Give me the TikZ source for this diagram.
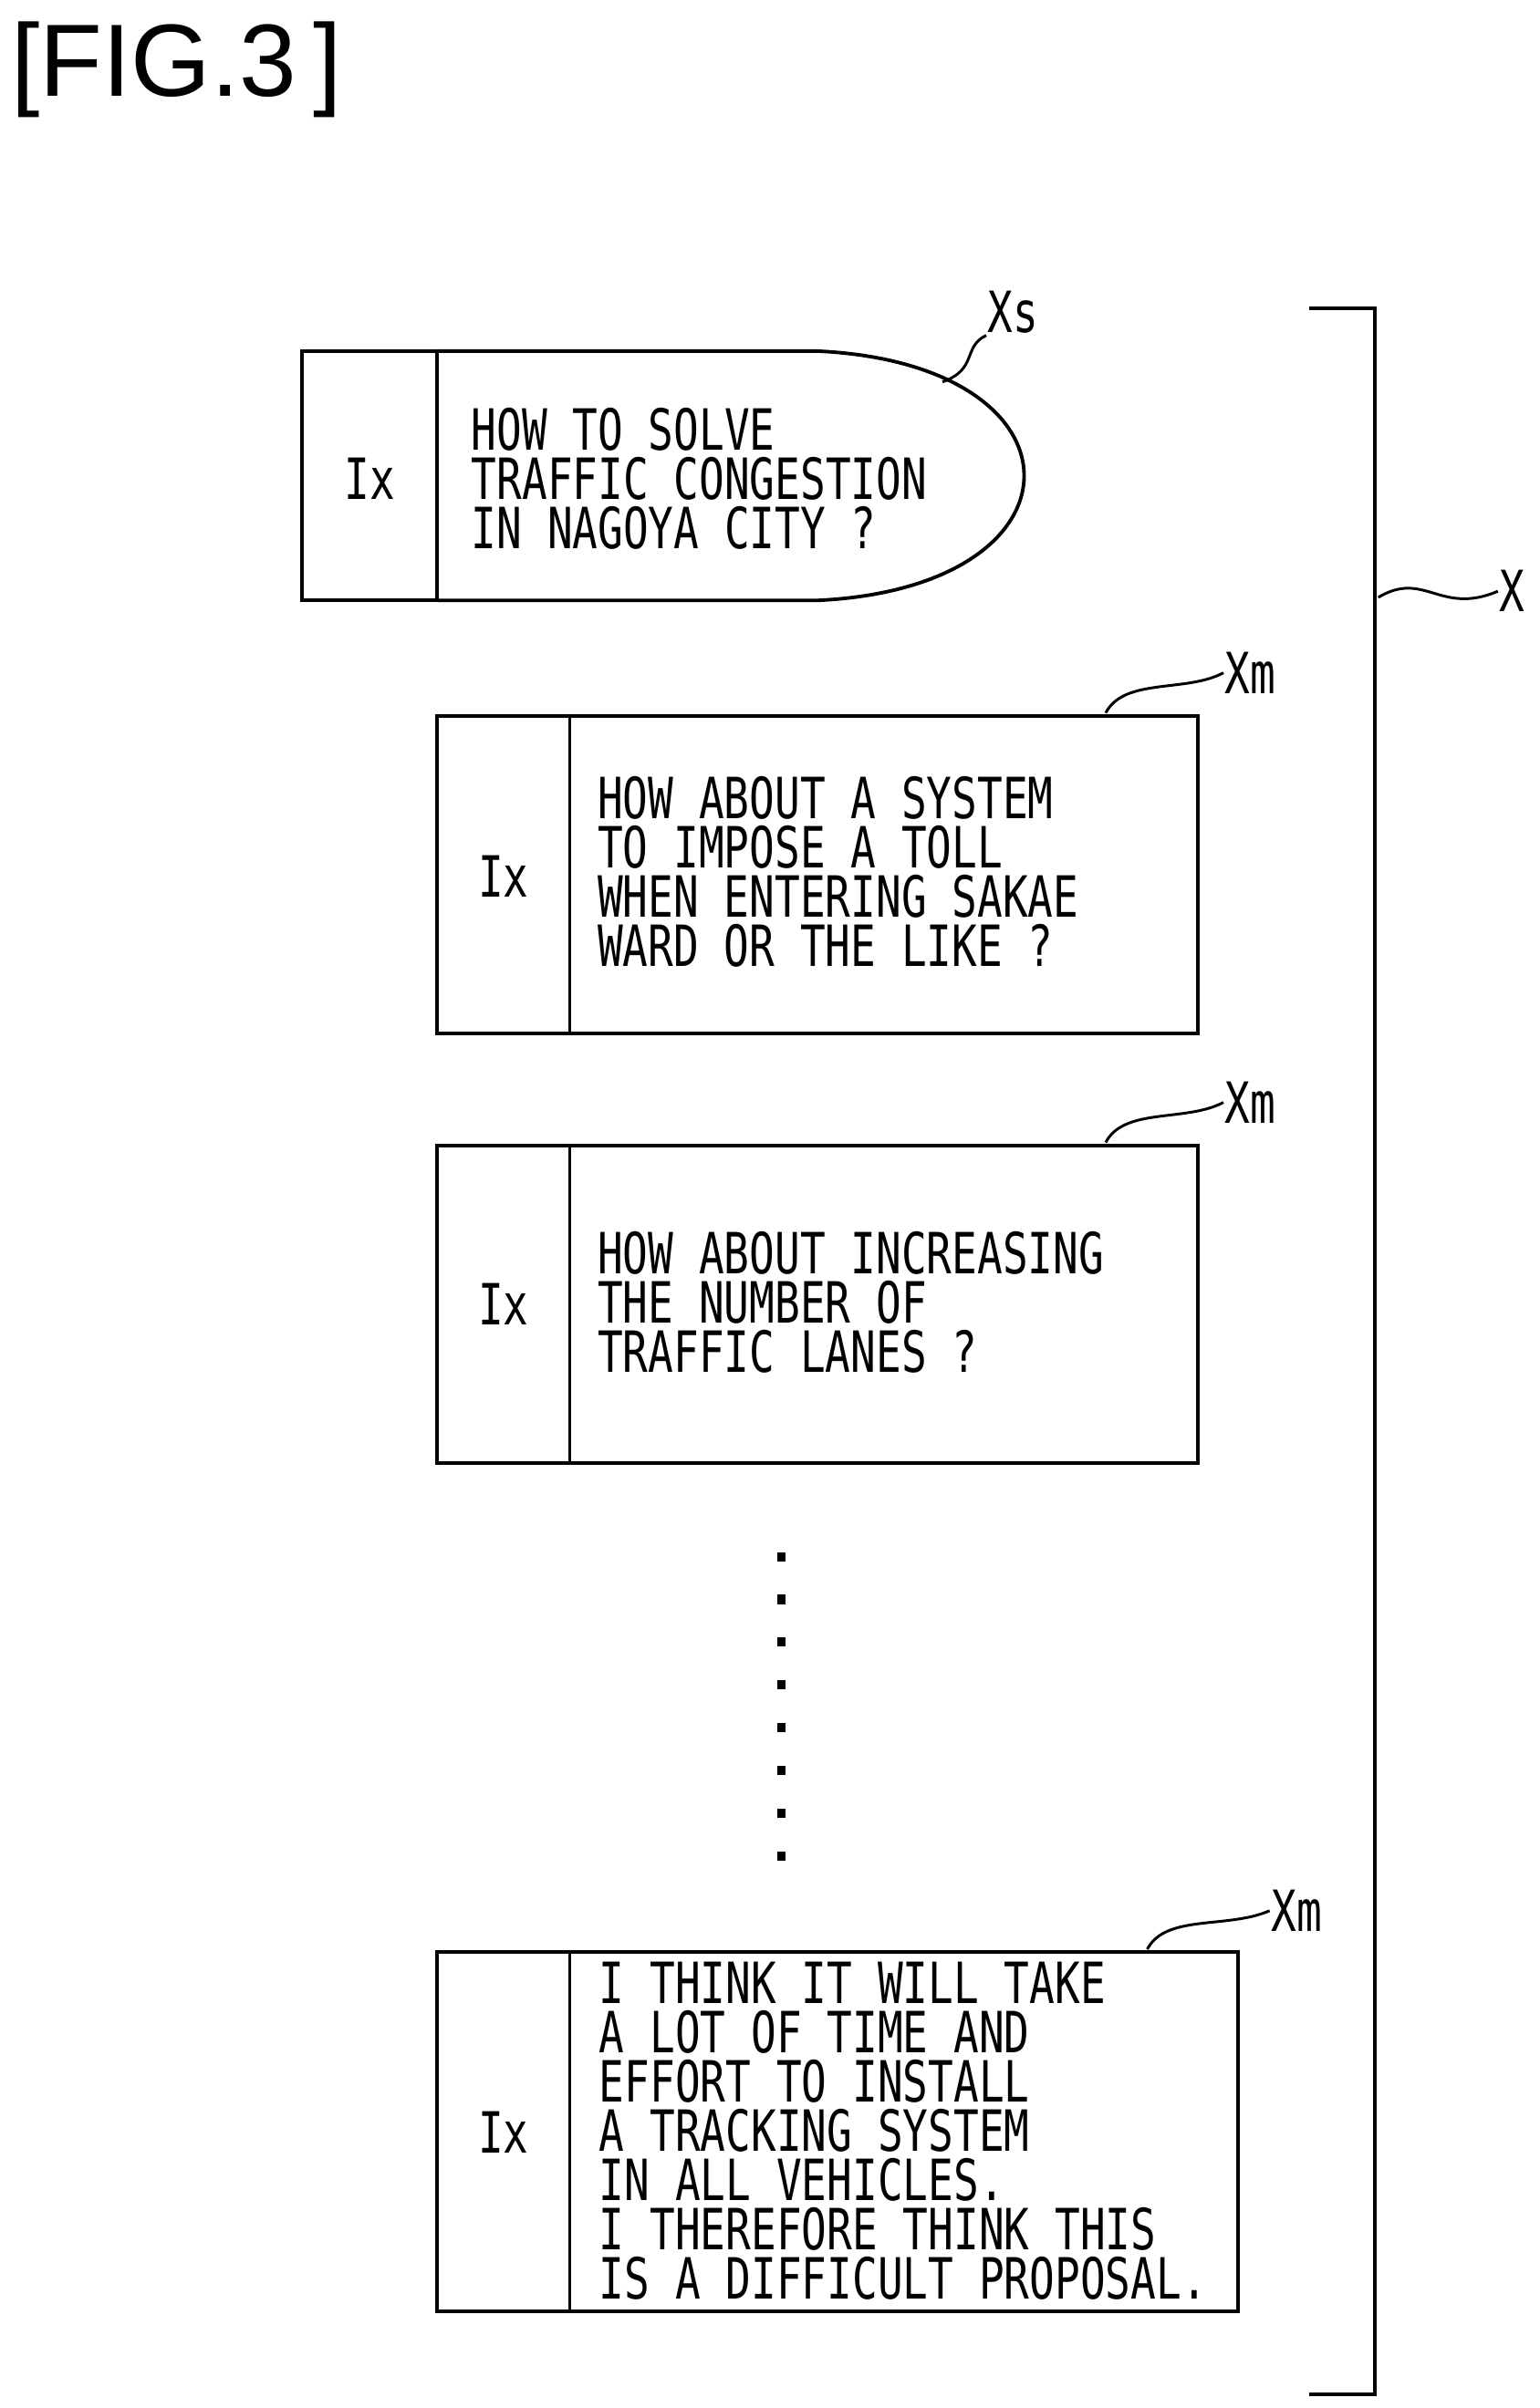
\documentclass[tikz,border=0pt]{standalone}
\usepackage{fontspec}
\newfontfamily\jf[FakeStretch=0.74]{DejaVu Sans Mono}
\setmainfont{Liberation Sans}
\begin{document}
\begin{tikzpicture}[x=0.02cm,y=-0.02cm,line width=1.3pt,
  txt/.style={font=\jf\fontsize{21pt}{18.2pt}\selectfont,align=left,anchor=west,inner sep=0},
  ix/.style={font=\jf\fontsize{21pt}{18.2pt}\selectfont,inner sep=0},
  lab/.style={font=\jf\fontsize{21pt}{18pt}\selectfont,inner sep=0},
  lead/.style={line width=1pt}]
\useasboundingbox (0,0) rectangle (1000,1564);
\node[font=\fontsize{38pt}{40pt}\selectfont,anchor=west,inner sep=0] (title) at (6,45) {[FIG.3\,]};
% box 1
\draw (196,228) rectangle (284,390);
\draw (284,228) -- (530,228) .. controls (710,236) and (710,382) .. (530,390) -- (284,390);
\node[ix] (ix1) at (240,311) {Ix};
\node[txt] (t1) at (305,311) {HOW TO SOLVE\\TRAFFIC CONGESTION\\IN NAGOYA CITY ?};
\node[lab] (xs) at (658,203) {Xs};
\coordinate (xsa) at (612,248);
\draw[lead] (xsa) .. controls (635,240) and (625,225) .. (xs.south west);
% box 2
\draw (284,465) rectangle (778,671); \draw (370,465) -- (370,671);
\node[ix] (ix2) at (327,569) {Ix};
\node[txt] (t2) at (387,566) {HOW ABOUT A SYSTEM\\TO IMPOSE A TOLL\\WHEN ENTERING SAKAE\\WARD OR THE LIKE ?};
\node[lab] (xm1) at (812,437) {Xm};
\coordinate (m1) at (718,463);
\draw[lead] (m1) .. controls (730,440) and (770,450) .. (xm1.west);
% box 3
\draw (284,744) rectangle (778,950); \draw (370,744) -- (370,950);
\node[ix] (ix3) at (327,847) {Ix};
\node[txt] (t3) at (387,846) {HOW ABOUT INCREASING\\THE NUMBER OF\\TRAFFIC LANES ?};
\node[lab] (xm2) at (812,716) {Xm};
\coordinate (m2) at (718,742);
\draw[lead] (m2) .. controls (730,719) and (770,729) .. (xm2.west);
% dots
\foreach \i in {0,...,7} \fill (505,1008+\i*27.8) rectangle (510,1014+\i*27.8);
% box 4
\draw (284,1268) rectangle (804,1501); \draw (370,1268) -- (370,1501);
\node[ix] (ix4) at (327,1385) {Ix};
\node[txt] (t4) at (388,1384) {I THINK IT WILL TAKE\\A LOT OF TIME AND\\EFFORT TO INSTALL\\A TRACKING SYSTEM\\IN ALL VEHICLES.\\I THEREFORE THINK THIS\\IS A DIFFICULT PROPOSAL.};
\node[lab] (xm3) at (842,1241) {Xm};
\coordinate (m3) at (745,1266);
\draw[lead] (m3) .. controls (757,1243) and (797,1253) .. (xm3.west);
% bracket
\draw (850,200) -- (893,200) -- (893,1555) -- (850,1555);
\node[lab] (x) at (982,384) {X};
\coordinate (xb) at (895,388);
\draw[lead] (xb) .. controls (925,370) and (935,400) .. (x.west);
\end{tikzpicture}
\end{document}
